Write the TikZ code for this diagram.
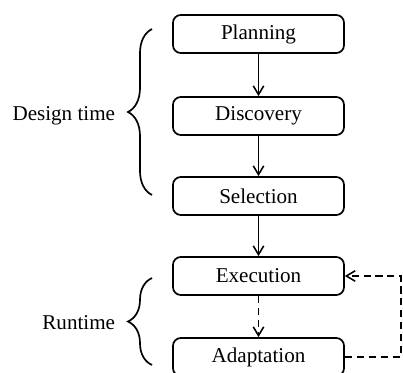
\documentclass[tikz,border=0pt]{standalone}
\usepackage{fontspec}
\setmainfont{Liberation Serif}
\usetikzlibrary{positioning}
\usetikzlibrary{arrows.meta}
\usetikzlibrary{decorations.pathreplacing}
\usetikzlibrary{calc}

\begin{document}
\begin{tikzpicture}[
  font=\fontsize{15}{18}\selectfont,
  phase/.style={draw, rounded corners=5.5pt, line width=1.2pt, minimum width=4.275cm, minimum height=0.95cm, inner sep=0pt},
  edge/.style={-{Straight Barb[length=2.2mm, width=2.6mm]}, line width=1.1pt},
  dashededge/.style={edge, dash pattern=on 5pt off 3.5pt},
  stagebrace/.style={decorate, decoration={brace, amplitude=0.6cm}, line width=1.2pt}
]
\useasboundingbox (0,0) rectangle (10.075,-9.325);

% phases
\node[phase] (plan) at (6.4625,-0.85) {Planning};
\node[phase] (disc) at (6.4625,-2.9) {Discovery};
\node[phase] (sel) at (6.4625,-4.9) {Selection};
\node[phase] (exec) at (6.4625,-6.9) {Execution};
\node[phase] (adapt) at (6.4625,-8.925) {Adaptation};

% flow
\draw[edge] (plan) -- (disc);
\draw[edge] (disc) -- (sel);
\draw[edge] (sel) -- (exec);
\draw[dashededge] (exec) -- (adapt);

% feedback loop
\draw[dashededge] (adapt.east) -- ++(1.4,0) |- (exec.east);

% stage braces
\coordinate (dttop) at (3.8,-0.725);
\coordinate (dtbot) at (3.8,-4.875);
\coordinate (rttop) at (3.8,-6.95);
\coordinate (rtbot) at (3.8,-9.125);
\draw[stagebrace] (dtbot) -- (dttop);
\draw[stagebrace] (rtbot) -- (rttop);

\node[anchor=east] (design) at (3.0,-2.9) {Design time};
\node[anchor=east] (runtime) at (3.0,-8.075) {Runtime};
\end{tikzpicture}
\end{document}
